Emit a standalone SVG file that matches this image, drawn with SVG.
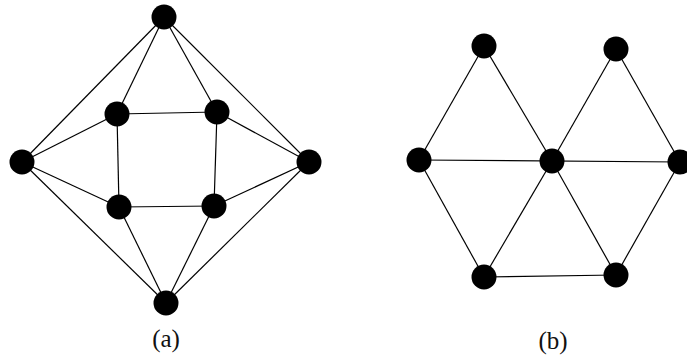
<svg xmlns="http://www.w3.org/2000/svg" width="687" height="364" viewBox="0 0 687 364">
<style>
.e{stroke:#000;stroke-width:1.2;fill:none}
.n{fill:#000}
.lbl{font-family:"Liberation Serif","DejaVu Serif",serif;font-size:25px;fill:#111;text-anchor:middle}
</style>
<rect width="687" height="364" fill="#fff"/>
<g id="connectors" class="e">
<!-- graph a -->
<line x1="164" y1="17" x2="22" y2="162"/>
<line x1="164" y1="17" x2="117" y2="114"/>
<line x1="164" y1="17" x2="217" y2="112"/>
<line x1="164" y1="17" x2="309" y2="162"/>
<line x1="22" y1="162" x2="117" y2="114"/>
<line x1="22" y1="162" x2="119" y2="207"/>
<line x1="22" y1="162" x2="166" y2="303"/>
<line x1="309" y1="162" x2="217" y2="112"/>
<line x1="309" y1="162" x2="214" y2="206"/>
<line x1="309" y1="162" x2="166" y2="303"/>
<line x1="117" y1="114" x2="217" y2="112"/>
<line x1="117" y1="114" x2="119" y2="207"/>
<line x1="217" y1="112" x2="214" y2="206"/>
<line x1="119" y1="207" x2="214" y2="206"/>
<line x1="166" y1="303" x2="119" y2="207"/>
<line x1="166" y1="303" x2="214" y2="206"/>
<!-- graph b -->
<line x1="484" y1="46" x2="419" y2="160"/>
<line x1="484" y1="46" x2="552" y2="161"/>
<line x1="616" y1="49" x2="552" y2="161"/>
<line x1="616" y1="49" x2="680" y2="162"/>
<line x1="419" y1="160" x2="680" y2="162"/>
<line x1="419" y1="160" x2="484" y2="277"/>
<line x1="552" y1="161" x2="484" y2="277"/>
<line x1="552" y1="161" x2="616" y2="275"/>
<line x1="680" y1="162" x2="616" y2="275"/>
<line x1="484" y1="277" x2="616" y2="275"/>
</g>
<g id="a-top"><circle class="n" cx="164" cy="17" r="12.5"/></g>
<g id="a-left"><circle class="n" cx="22" cy="162" r="12.5"/></g>
<g id="a-right"><circle class="n" cx="309" cy="162" r="12.5"/></g>
<g id="a-tl"><circle class="n" cx="117" cy="114" r="12.5"/></g>
<g id="a-tr"><circle class="n" cx="217" cy="112" r="12.5"/></g>
<g id="a-bl"><circle class="n" cx="119" cy="207" r="12.5"/></g>
<g id="a-br"><circle class="n" cx="214" cy="206" r="12.5"/></g>
<g id="a-bottom"><circle class="n" cx="166" cy="303" r="12.5"/></g>
<g id="b-tl"><circle class="n" cx="484" cy="46" r="12.5"/></g>
<g id="b-tr"><circle class="n" cx="616" cy="49" r="12.5"/></g>
<g id="b-left"><circle class="n" cx="419" cy="160" r="12.5"/></g>
<g id="b-center"><circle class="n" cx="552" cy="161" r="12.5"/></g>
<g id="b-right"><circle class="n" cx="680" cy="162" r="12.5"/></g>
<g id="b-bl"><circle class="n" cx="484" cy="277" r="12.5"/></g>
<g id="b-br"><circle class="n" cx="616" cy="275" r="12.5"/></g>
<g id="label-a"><text class="lbl" x="166" y="347">(a)</text></g>
<g id="label-b"><text class="lbl" x="553" y="349">(b)</text></g>
</svg>
